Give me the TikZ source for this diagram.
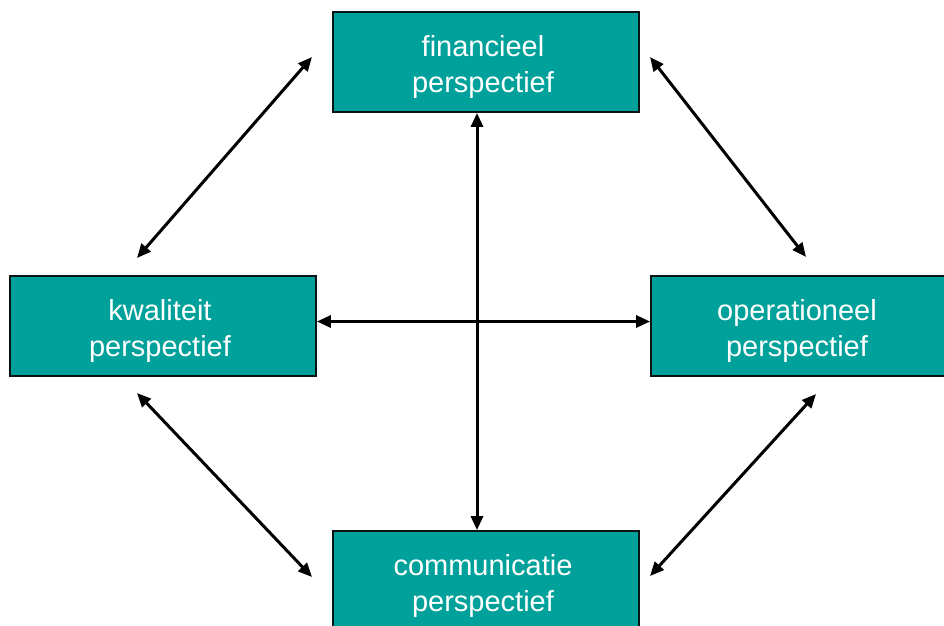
\documentclass[tikz,border=0pt]{standalone}
\usepackage{fontspec}
\setmainfont{Liberation Sans}
\usetikzlibrary{arrows.meta}
\definecolor{teal}{RGB}{0,161,154}
\definecolor{rim}{RGB}{10,20,20}
\tikzset{
  persp/.style={draw=rim, line width=1.8pt, fill=teal,
    minimum width=306pt, minimum height=100pt, inner sep=0pt},
  ptext/.style={text=white, align=center, inner sep=0pt,
    font=\fontsize{29}{36}\selectfont, yshift=-5pt, xshift=-3pt},
  link/.style={line width=3pt, {Triangle[length=14pt,width=12pt]}-{Triangle[length=14pt,width=12pt]}}
}
\begin{document}
\begin{tikzpicture}[x=1pt,y=-1pt]
\useasboundingbox (0,0) rectangle (944,625);
\clip (0,0) rectangle (944,625);
% the four perspectives
\node[persp, label={[ptext]center:financieel\\perspectief}] (fin) at (486,62) {};
\node[persp, label={[ptext]center:kwaliteit\\perspectief}] (kwa) at (163,326) {};
\node[persp, label={[ptext, xshift=-4pt]center:operationeel\\perspectief}] (ope) at (804,326) {};
\node[persp, label={[ptext]center:communicatie\\perspectief}] (com) at (486,581) {};
% free ends of the diagonal links
\coordinate (tl1) at (137,258);
\coordinate (tl2) at (312,57);
\coordinate (tr1) at (650,57);
\coordinate (tr2) at (806,257);
\coordinate (bl1) at (137,393);
\coordinate (bl2) at (312,577);
\coordinate (br1) at (816,394);
\coordinate (br2) at (650,576);
% links
\draw[link] ([xshift=-9pt]fin.south) -- ([xshift=-9pt]com.north);
\draw[link] ([yshift=4.5pt]kwa.east) -- ([yshift=4.5pt]ope.west);
\draw[link] (tl1) -- (tl2);
\draw[link] (tr1) -- (tr2);
\draw[link] (bl1) -- (bl2);
\draw[link] (br1) -- (br2);
\end{tikzpicture}
\end{document}
